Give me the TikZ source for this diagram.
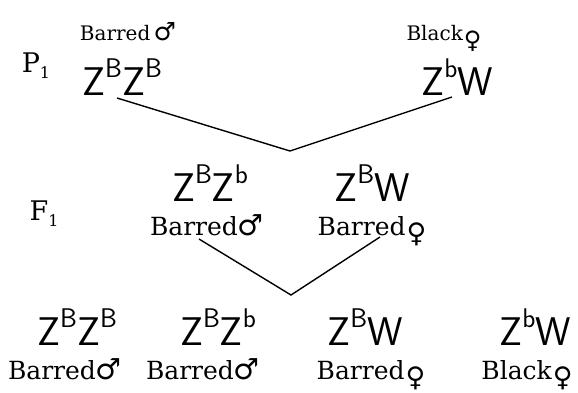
\documentclass[tikz,border=0pt]{standalone}
\usepackage{fontspec}
\setmainfont{DejaVu Serif}
\newfontfamily\symfont{DejaVu Sans}
\usetikzlibrary{calc}
\newcommand\gsup[1]{\raisebox{18pt}{\fontsize{27}{27}\selectfont #1}}
\newcommand\msym{{\symfont\fontsize{29}{29}\selectfont ♂}}
\newcommand\fsym{\kern1pt\raisebox{-7pt}{\symfont\fontsize{27}{27}\selectfont ♀}}
\newcommand\smsym{{\symfont\fontsize{25}{25}\selectfont ♂}}
\newcommand\sfsym{\kern1pt\raisebox{-8pt}{\symfont\fontsize{24}{24}\selectfont ♀}}
\newcommand\gensub[2]{#1\raisebox{-6pt}{\fontsize{16}{16}\selectfont #2}}
\tikzset{
  geno/.style={inner sep=1pt, anchor=base, font=\sffamily\fontsize{40}{40}\selectfont},
  lab/.style={inner sep=1pt, anchor=base, font=\fontsize{25}{25}\selectfont},
  toplab/.style={inner sep=1pt, anchor=base, font=\fontsize{20}{20}\selectfont},
  gen/.style={inner sep=1pt, anchor=base, font=\fontsize{27}{27}\selectfont},
  conn/.style={line width=1.4pt, line join=miter}
}
\begin{document}
\begin{tikzpicture}[x=1pt,y=-1pt]
\useasboundingbox (0,0) rectangle (578,392);
% P1 generation
\node[gen] (p1) at (36,72) {\gensub{P}{1}};
\node[toplab] (pml) at (128,40) {Barred\,\smsym};
\node[geno] (pm) at (122,95) {Z\gsup{B}Z\gsup{B}};
\node[toplab] (pfl) at (444,40) {Black\sfsym};
\node[geno] (pf) at (457,95) {Z\gsup{b}W};
\coordinate (v1) at (290,151);
\draw[conn] ($(pm.base)+(-5,3)$) -- (v1) -- ($(pf.base)+(-5,2)$);
% F1 generation
\node[gen] (f1) at (44,220) {\gensub{F}{1}};
\node[geno] (fm) at (210,201) {Z\gsup{B}Z\gsup{b}};
\node[lab] (fml) at (207,235) {Barred\msym};
\node[geno] (ff) at (372,201) {Z\gsup{B}W};
\node[lab] (ffl) at (372,235) {Barred\fsym};
\coordinate (v2) at (291,295);
\draw[conn] ($(fml.base)+(-8,4)$) -- (v2) -- ($(ffl.base)+(8,2)$);
% F2 generation
\node[geno] (a) at (77,345) {Z\gsup{B}Z\gsup{B}};
\node[lab] (al) at (65,379) {Barred\msym};
\node[geno] (b) at (218,345) {Z\gsup{B}Z\gsup{b}};
\node[lab] (bl) at (203,379) {Barred\msym};
\node[geno] (c) at (365,345) {Z\gsup{B}W};
\node[lab] (cl) at (371,379) {Barred\fsym};
\node[geno] (d) at (535,345) {Z\gsup{b}W};
\node[lab] (dl) at (527,379) {Black\fsym};
\end{tikzpicture}
\end{document}
